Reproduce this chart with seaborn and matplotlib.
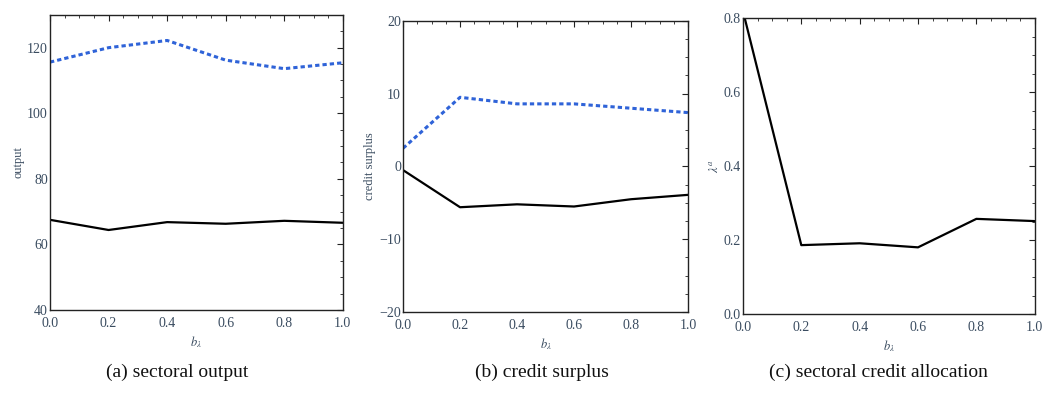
import numpy as np
import pandas as pd
import matplotlib
matplotlib.use("Agg")
import matplotlib.pyplot as plt
import seaborn as sns
from matplotlib.ticker import MultipleLocator

b_lambda = [0.0, 0.2, 0.4, 0.6, 0.8, 1.0]
output_dashed = [115.6, 120.0, 122.2, 116.2, 113.6, 115.4]
output_solid = [67.5, 64.4, 66.8, 66.3, 67.2, 66.6]
credit_dashed = [2.5, 9.5, 8.6, 8.6, 8.0, 7.4]
credit_solid = [-0.5, -5.6, -5.2, -5.5, -4.5, -3.9]
alloc_solid = [0.82, 0.187, 0.192, 0.181, 0.258, 0.252]

captions = ["(a) sectoral output", "(b) credit surplus", "(c) sectoral credit allocation"]
ylabels = ["output", "credit surplus", r"$\lambda^a$"]

sns.set_theme(style="white")
plt.rcParams["font.family"] = ["Liberation Serif", "DejaVu Serif"]
plt.rcParams["mathtext.fontset"] = "stix"

fig = plt.figure(figsize=(10.42, 3.94), dpi=100)
positions = [
    [0.048, 0.2132, 0.281, 0.749],
    [0.3868, 0.208, 0.2735, 0.739],
    [0.713, 0.2023, 0.280, 0.751],
]
axes = [fig.add_axes(p) for p in positions]

blue = "#2f63d8"
tick_color = "#3a4c60"
dash = (0, (1.4, 1.0))

def style(ax, ylim, ymaj, ymin, ylab, cap_x, cap):
    ax.set_xlim(0, 1.0)
    ax.set_ylim(*ylim)
    ax.xaxis.set_major_locator(MultipleLocator(0.2))
    ax.xaxis.set_minor_locator(MultipleLocator(0.05))
    ax.yaxis.set_major_locator(MultipleLocator(ymaj))
    ax.yaxis.set_minor_locator(MultipleLocator(ymin))
    ax.tick_params(which="both", direction="in", top=True, right=True,
                   color="#222222", labelsize=10, labelcolor=tick_color)
    ax.tick_params(axis="y", pad=1.5)
    ax.tick_params(axis="x", pad=5)
    ax.tick_params(which="major", length=4, width=0.8)
    ax.tick_params(which="minor", length=2, width=0.6)
    for s in ax.spines.values():
        s.set_color("#222222")
        s.set_linewidth(1.0)
    ax.set_xlabel(r"$b_\lambda$", fontsize=9, color=tick_color, labelpad=3)
    ax.set_ylabel(ylab, fontsize=9, color=tick_color, labelpad=2)
    ax.set_xticklabels([f"{v:.1f}" for v in ax.get_xticks()])
    fig.text(cap_x, 1 - 372 / 394, cap, ha="center", va="center", fontsize=14,
             color="#111111")
    legend = ax.get_legend()
    if legend:
        legend.remove()

# Panel a
df_a = pd.DataFrame({"b": b_lambda * 2,
                     "v": output_dashed + output_solid,
                     "s": ["d"] * 6 + ["s"] * 6})
sns.lineplot(data=df_a[df_a.s == "d"], x="b", y="v", ax=axes[0], color=blue,
             linestyle=dash, linewidth=2.2)
sns.lineplot(data=df_a[df_a.s == "s"], x="b", y="v", ax=axes[0], color="black",
             linewidth=1.6)
style(axes[0], (40, 130), 20, 5, ylabels[0], 177 / 1042, captions[0])
axes[0].set_yticks([40, 60, 80, 100, 120])

# Panel b
df_b = pd.DataFrame({"b": b_lambda * 2,
                     "v": credit_dashed + credit_solid,
                     "s": ["d"] * 6 + ["s"] * 6})
sns.lineplot(data=df_b[df_b.s == "d"], x="b", y="v", ax=axes[1], color=blue,
             linestyle=dash, linewidth=2.2)
sns.lineplot(data=df_b[df_b.s == "s"], x="b", y="v", ax=axes[1], color="black",
             linewidth=1.6)
style(axes[1], (-20, 20), 10, 2.5, ylabels[1], 542 / 1042, captions[1])
axes[1].set_yticks([-20, -10, 0, 10, 20])
axes[1].set_yticklabels(["\u221220", "\u221210", "0", "10", "20"])

# Panel c
df_c = pd.DataFrame({"b": b_lambda, "v": alloc_solid})
sns.lineplot(data=df_c, x="b", y="v", ax=axes[2], color="black", linewidth=1.6)
style(axes[2], (0, 0.8), 0.2, 0.05, ylabels[2], 878 / 1042, captions[2])
axes[2].set_yticks([0.0, 0.2, 0.4, 0.6, 0.8])
axes[2].set_yticklabels(["0.0", "0.2", "0.4", "0.6", "0.8"])

fig.savefig("out.png", dpi=100)
